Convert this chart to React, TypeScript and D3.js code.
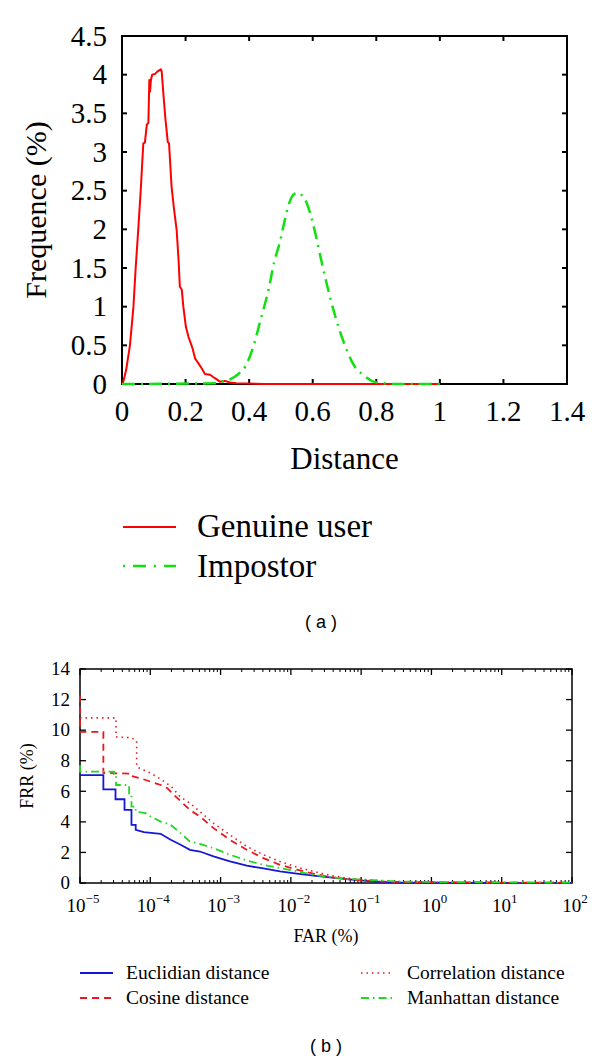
import React, { useEffect } from 'react';
import * as d3 from 'd3';

// ---- panel (a): distance distributions, [distance, frequence %] ----
const genuineUser: [number, number][] = [
  [0, 0], [0.004, 0.03], [0.013, 0.18], [0.025, 0.5], [0.036, 1.0], [0.043, 1.5],
  [0.051, 1.99], [0.059, 2.51], [0.067, 3.11], [0.072, 3.12], [0.078, 3.35], [0.083, 3.38],
  [0.086, 3.93], [0.088, 3.78], [0.091, 3.93], [0.095, 4.0], [0.104, 4.01], [0.111, 4.04],
  [0.122, 4.07], [0.125, 4.04], [0.13, 3.76], [0.137, 3.41], [0.144, 3.13], [0.148, 3.11],
  [0.156, 2.55], [0.164, 2.25], [0.172, 1.99], [0.178, 1.6], [0.182, 1.26], [0.188, 1.22],
  [0.193, 1.0], [0.201, 0.74], [0.209, 0.61], [0.216, 0.53], [0.222, 0.46], [0.23, 0.33],
  [0.24, 0.27], [0.251, 0.2], [0.261, 0.13], [0.277, 0.12], [0.287, 0.09], [0.298, 0.06],
  [0.308, 0.03], [0.324, 0.04], [0.34, 0.02], [0.36, 0.01], [0.4, 0.005], [0.45, 0], [1.0, 0],
];
const impostor: [number, number][] = [
  [0, 0], [0.3, 0.01], [0.314, 0.03], [0.34, 0.06], [0.366, 0.13], [0.387, 0.22],
  [0.413, 0.48], [0.436, 0.83], [0.461, 1.22], [0.479, 1.58], [0.497, 1.84], [0.51, 2.08],
  [0.526, 2.34], [0.54, 2.45], [0.553, 2.47], [0.566, 2.44], [0.581, 2.34], [0.607, 1.97],
  [0.628, 1.58], [0.654, 1.13], [0.681, 0.74], [0.707, 0.44], [0.733, 0.22], [0.759, 0.12],
  [0.791, 0.03], [0.822, 0.01], [0.86, 0], [1.0, 0],
];
const distTicks = [0, 0.2, 0.4, 0.6, 0.8, 1, 1.2, 1.4];
const freqTicks = [0, 0.5, 1, 1.5, 2, 2.5, 3, 3.5, 4, 4.5];

// ---- panel (b): FRR vs FAR, [FAR %, FRR %] ----
const euclidian: [number, number][] = [
  [1e-5, 7.06], [2.15e-5, 7.06], [2.15e-5, 6.13], [3.2e-5, 6.13], [3.2e-5, 5.48], [4.3e-5, 5.48],
  [4.3e-5, 4.78], [5.4e-5, 4.78], [5.4e-5, 3.8], [6.2e-5, 3.8], [6.2e-5, 3.48], [8.1e-5, 3.33],
  [1.4e-4, 3.22], [1.95e-4, 2.83], [2.7e-4, 2.5], [3.67e-4, 2.17], [5.09e-4, 2.06], [7.94e-4, 1.74],
  [1.36e-3, 1.41], [2.36e-3, 1.13], [4.06e-3, 0.95], [7.0e-3, 0.76], [1.21e-2, 0.61], [2.09e-2, 0.48],
  [3.6e-2, 0.37], [6.2e-2, 0.26], [0.107, 0.15], [0.185, 0.08], [0.32, 0.04], [1, 0.02], [10, 0.01], [100, 0],
];
const cosine: [number, number][] = [
  [1e-5, 12.29], [1e-5, 9.89], [2.15e-5, 9.89], [2.15e-5, 7.2], [5.3e-5, 7.15], [5.3e-5, 7.0],
  [7.3e-5, 6.85], [1.01e-4, 6.63], [1.41e-4, 6.41], [1.75e-4, 6.2], [2.17e-4, 5.76], [2.7e-4, 5.35],
  [3.67e-4, 4.78], [5.09e-4, 4.35], [7.94e-4, 3.59], [1.36e-3, 2.82], [2.36e-3, 2.17], [4.06e-3, 1.63],
  [7.0e-3, 1.19], [1.21e-2, 0.87], [2.09e-2, 0.61], [3.6e-2, 0.39], [6.2e-2, 0.26], [0.107, 0.17],
  [0.185, 0.1], [0.32, 0.07], [1, 0.05], [10, 0.03], [100, 0.02],
];
const correlation: [number, number][] = [
  [1e-5, 10.8], [3.25e-5, 10.8], [3.25e-5, 9.56], [5.4e-5, 9.5], [6.4e-5, 9.3], [6.4e-5, 7.6],
  [1e-4, 7.2], [1.4e-4, 6.8], [2.0e-4, 6.3], [2.65e-4, 5.65], [3.67e-4, 5.22], [5.09e-4, 4.67],
  [7.94e-4, 3.91], [1.36e-3, 3.15], [2.36e-3, 2.39], [4.06e-3, 1.85], [7.0e-3, 1.41], [1.21e-2, 1.04],
  [2.09e-2, 0.76], [3.6e-2, 0.5], [6.2e-2, 0.33], [0.107, 0.22], [0.185, 0.15], [0.32, 0.09],
  [1, 0.05], [10, 0.02], [100, 0.01],
];
const manhattan: [number, number][] = [
  [1e-5, 7.7], [1e-5, 7.28], [3.05e-5, 7.28], [3.05e-5, 7.13], [3.25e-5, 7.13], [3.25e-5, 6.41],
  [5e-5, 6.41], [5e-5, 5.76], [5.4e-5, 5.76], [5.4e-5, 5.0], [6.2e-5, 5.0], [6.2e-5, 4.67],
  [8.6e-5, 4.57], [1.01e-4, 4.35], [1.41e-4, 4.02], [1.95e-4, 3.8], [2.65e-4, 3.3], [3.67e-4, 2.71],
  [5.09e-4, 2.56], [7.94e-4, 2.28], [1.36e-3, 1.85], [2.36e-3, 1.47], [4.06e-3, 1.19], [7.0e-3, 0.98],
  [1.21e-2, 0.76], [2.09e-2, 0.54], [3.6e-2, 0.39], [6.2e-2, 0.28], [0.107, 0.22], [0.185, 0.17],
  [0.32, 0.1], [1, 0.07], [10, 0.04], [100, 0.03],
];
const farExponents = [-5, -4, -3, -2, -1, 0, 1, 2];
const frrTicks = [0, 2, 4, 6, 8, 10, 12, 14];

const SERIF = '"Liberation Serif", "Times New Roman", serif';
const SANS = '"Liberation Sans", Arial, sans-serif';

const A = { left: 122, right: 567, top: 36, bottom: 384 };
const B = { left: 80, right: 572, top: 669, bottom: 883 };

function PanelA() {
  const x = d3.scaleLinear().domain([0, 1.4]).range([A.left, A.right]);
  const y = d3.scaleLinear().domain([0, 4.5]).range([A.bottom, A.top]);
  const lineGenuine = d3.line<[number, number]>().x((d) => x(d[0])).y((d) => y(d[1]));
  const lineImp = d3
    .line<[number, number]>()
    .x((d) => x(d[0]))
    .y((d) => y(d[1]))
    .curve(d3.curveMonotoneX);
  const tk = 5;
  const fs = 29;
  return (
    <g>
      <rect x={A.left} y={A.top} width={A.right - A.left} height={A.bottom - A.top} fill="none" stroke="#000" strokeWidth={2} />
      {distTicks.map((t) => (
        <g key={'x' + t}>
          <line x1={x(t)} x2={x(t)} y1={A.bottom} y2={A.bottom - tk} stroke="#000" strokeWidth={2} />
          <line x1={x(t)} x2={x(t)} y1={A.top} y2={A.top + tk} stroke="#000" strokeWidth={2} />
          <text x={x(t)} y={421} textAnchor="middle" fontFamily={SERIF} fontSize={fs}>{d3.format('')(t)}</text>
        </g>
      ))}
      {freqTicks.map((t) => (
        <g key={'y' + t}>
          <line x1={A.left} x2={A.left + tk} y1={y(t)} y2={y(t)} stroke="#000" strokeWidth={2} />
          <line x1={A.right} x2={A.right - tk} y1={y(t)} y2={y(t)} stroke="#000" strokeWidth={2} />
          <text x={107} y={y(t)} dy="0.33em" textAnchor="end" fontFamily={SERIF} fontSize={fs}>{d3.format('')(t)}</text>
        </g>
      ))}
      <path d={lineGenuine(genuineUser) || ''} fill="none" stroke="#ff0000" strokeWidth={2} strokeLinejoin="round" />
      <path d={lineImp(impostor) || ''} fill="none" stroke="#11e011" strokeWidth={2.5} strokeDasharray="13,6,2,6" />
      <text x={(A.left + A.right) / 2} y={469} textAnchor="middle" fontFamily={SERIF} fontSize={31}>Distance</text>
      <text transform={`translate(46,${(A.top + A.bottom) / 2}) rotate(-90)`} textAnchor="middle" fontFamily={SERIF} fontSize={30}>Frequence (%)</text>
      {/* legend */}
      <line x1={123} x2={176} y1={527} y2={527} stroke="#ff0000" strokeWidth={2} />
      <text x={197} y={537} fontFamily={SERIF} fontSize={33}>Genuine user</text>
      <line x1={123} x2={176} y1={566} y2={566} stroke="#11e011" strokeWidth={2.5} strokeDasharray="2,8,13,8" />
      <text x={197} y={577} fontFamily={SERIF} fontSize={33}>Impostor</text>
      <text x={321} y={628} textAnchor="middle" fontFamily={SANS} fontSize={18}>( a )</text>
    </g>
  );
}

function PanelB() {
  const x = d3.scaleLog().domain([1e-5, 1e2]).range([B.left, B.right]);
  const y = d3.scaleLinear().domain([0, 14]).range([B.bottom, B.top]);
  const gen = d3.line<[number, number]>().x((d) => x(d[0])).y((d) => y(d[1]));
  const minor: number[] = [];
  farExponents.slice(0, -1).forEach((e) => {
    for (let m = 2; m <= 9; m++) minor.push(m * Math.pow(10, e));
  });
  const fs = 19;
  const series = [
    { name: 'Euclidian distance', data: euclidian, color: '#1616d8', dash: '', width: 1.8 },
    { name: 'Cosine distance', data: cosine, color: '#e8191e', dash: '7,5', width: 1.8 },
    { name: 'Correlation distance', data: correlation, color: '#e8191e', dash: '1.5,4', width: 1.6 },
    { name: 'Manhattan distance', data: manhattan, color: '#22d822', dash: '8,4,1.5,4', width: 1.8 },
  ];
  const legendPos = [
    { lx: 80, ly: 973 },
    { lx: 80, ly: 998 },
    { lx: 361, ly: 973 },
    { lx: 361, ly: 998 },
  ];
  return (
    <g>
      <rect x={B.left} y={B.top} width={B.right - B.left} height={B.bottom - B.top} fill="none" stroke="#000" strokeWidth={1.5} />
      {minor.map((t, i) => (
        <g key={'m' + i}>
          <line x1={x(t)} x2={x(t)} y1={B.bottom} y2={B.bottom - 3} stroke="#000" strokeWidth={1} />
          <line x1={x(t)} x2={x(t)} y1={B.top} y2={B.top + 3} stroke="#000" strokeWidth={1} />
        </g>
      ))}
      {farExponents.map((e) => {
        const t = Math.pow(10, e);
        return (
          <g key={'x' + e}>
            <line x1={x(t)} x2={x(t)} y1={B.bottom} y2={B.bottom - 6} stroke="#000" strokeWidth={1.3} />
            <line x1={x(t)} x2={x(t)} y1={B.top} y2={B.top + 6} stroke="#000" strokeWidth={1.3} />
            <text x={x(t) + 3} y={912} textAnchor="middle" fontFamily={SERIF} fontSize={fs}>
              10
              <tspan dy={-9} fontSize={13}>{e < 0 ? '\u2212' + Math.abs(e) : String(e)}</tspan>
            </text>
          </g>
        );
      })}
      {frrTicks.map((t) => (
        <g key={'y' + t}>
          <line x1={B.left} x2={B.left + 6} y1={y(t)} y2={y(t)} stroke="#000" strokeWidth={1.3} />
          <line x1={B.right} x2={B.right - 6} y1={y(t)} y2={y(t)} stroke="#000" strokeWidth={1.3} />
          <text x={70} y={y(t)} dy="0.33em" textAnchor="end" fontFamily={SERIF} fontSize={fs}>{t}</text>
        </g>
      ))}
      {series.map((s) => (
        <path key={s.name} d={gen(s.data) || ''} fill="none" stroke={s.color} strokeWidth={s.width} strokeDasharray={s.dash || undefined} />
      ))}
      <text x={(B.left + B.right) / 2} y={942} textAnchor="middle" fontFamily={SERIF} fontSize={18}>FAR (%)</text>
      <text transform={`translate(33,${(B.top + B.bottom) / 2}) rotate(-90)`} textAnchor="middle" fontFamily={SERIF} fontSize={18}>FRR (%)</text>
      {series.map((s, i) => (
        <g key={'l' + s.name}>
          <line x1={legendPos[i].lx} x2={legendPos[i].lx + 33} y1={legendPos[i].ly} y2={legendPos[i].ly} stroke={s.color} strokeWidth={s.width} strokeDasharray={s.dash || undefined} />
          <text x={legendPos[i].lx + 46} y={legendPos[i].ly + 6} fontFamily={SERIF} fontSize={19.5}>{s.name}</text>
        </g>
      ))}
      <text x={326} y={1052} textAnchor="middle" fontFamily={SANS} fontSize={18}>( b )</text>
    </g>
  );
}

export default function App() {
  useEffect(() => {
    document.body.style.margin = '0';
  }, []);
  return (
    <svg width={600} height={1061} viewBox="0 0 600 1061" style={{ display: 'block', background: '#fff' }}>
      <rect width={600} height={1061} fill="#fff" />
      <PanelA />
      <PanelB />
    </svg>
  );
}
